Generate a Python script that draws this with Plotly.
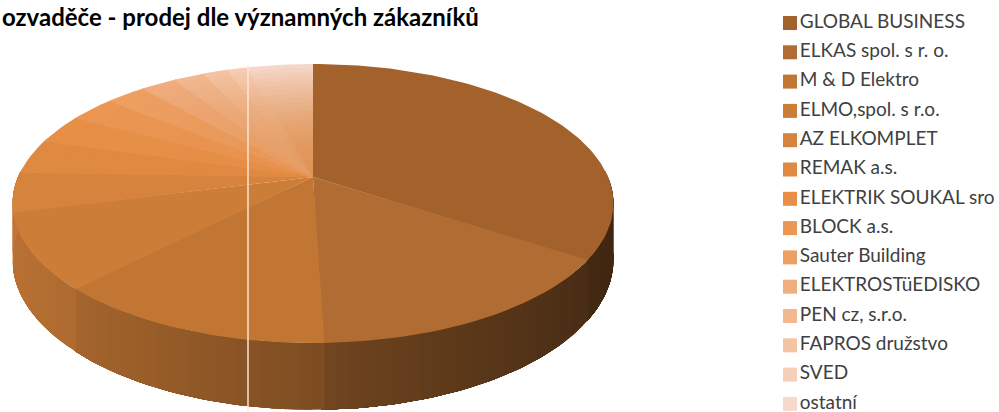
import numpy as np
import plotly.graph_objects as go

# ---- data ----
labels = ["GLOBAL BUSINESS", "ELKAS spol. s r. o.", "M & D Elektro", "ELMO,spol. s r.o.",
          "AZ ELKOMPLET", "REMAK a.s.", "ELEKTRIK SOUKAL sro", "BLOCK a.s.",
          "Sauter Building", "ELEKTROSTüEDISKO", "PEN cz, s.r.o.", "FAPROS družstvo",
          "SVED", "ostatní"]
values = [34.3, 15.2, 12.7, 8.7, 4.6, 4.0, 3.4, 3.0, 2.6, 2.3, 2.0, 1.6, 1.3, 4.3]
colors = ["#a3622b", "#b06c32", "#c17634", "#cc7d38", "#d6833d", "#df8941", "#e78f47",
          "#eb9652", "#eea063", "#f0ad7e", "#f2b892", "#f4c4a4", "#f6cfb8", "#f6d8cc"]
title_text = "ozvaděče - prodej dle významných zákazníků"

# ---- style / geometry (pixels) ----
W, HT = 999, 412
CX, CY = 313, 177          # projected pie centre
A, B = 295, 134.5          # radii of the projected disk
K = 0.19                   # perspective strength
H = 54                     # side height
CENTER_TONE = "#dd8b47"
EPS = np.radians(0.4)


def hex2rgb(h):
    h = h.lstrip("#")
    return np.array([int(h[i:i + 2], 16) for i in (0, 2, 4)], dtype=float)


def rgb2str(c):
    c = np.clip(c, 0, 255)
    return "rgb(%d,%d,%d)" % tuple(int(round(v)) for v in c)


def proj(theta, r=1.0, drop=0.0):
    X = r * np.sin(theta)
    Y = r * np.cos(theta)
    s = 1.0 / (1.0 + K * Y)
    return CX + A * X * s, CY - B * Y * s + drop * s


def poly(x, y, col):
    fig.add_trace(go.Scatter(x=x, y=y, fill="toself", mode="lines", fillcolor=col,
                             line=dict(width=0), hoverinfo="skip", showlegend=False))


fig = go.Figure()

total = float(sum(values))
bounds = np.concatenate([[0], np.cumsum(values)]) / total * 2 * np.pi

# ---- sides (front half only), painted so later pieces overlap earlier ones ----
for i, (a0, a1) in enumerate(zip(bounds[:-1], bounds[1:])):
    lo, hi = max(a0, np.pi / 2 - 0.05), min(a1, 3 * np.pi / 2 + 0.05)
    if hi <= lo:
        continue
    n = max(1, int(np.ceil((hi - lo) / np.radians(2))))
    edges = np.linspace(lo, hi, n + 1)
    base = hex2rgb(colors[i])
    end = hi + (EPS if i < len(values) - 1 else 0)
    for e0, e1 in zip(edges[:-1], edges[1:]):
        t = np.linspace(e0, end, max(3, int(np.degrees(end - e0)) + 2))
        xt, yt = proj(t)
        xb, yb = proj(t[::-1], drop=H)
        xm = np.mean(proj(np.array([e0, e1]))[0])
        f = 0.9 - 0.5 * (xm - (CX - A)) / (2 * A)
        poly(np.concatenate([xt, xb]), np.concatenate([yt, yb]), rgb2str(base * f))

# ---- top faces with a soft radial gradient (outer -> inner sectors) ----
NR = 24
ct = hex2rgb(CENTER_TONE)
for i, (a0, a1) in enumerate(zip(bounds[:-1], bounds[1:])):
    outer = hex2rgb(colors[i])
    w = 0.9 * max(0, i - 4) / 9.0
    inner = outer * (1 - w) + ct * w
    end = a1 + (EPS if i < len(values) - 1 else 0)
    t = np.linspace(a0, end, max(3, int(np.degrees(end - a0) / 1.5) + 2))
    radii = np.linspace(1, 0, NR + 1)[:-1] if w > 0 else [1.0]
    for r1 in radii:
        rm = r1 - 0.5 / NR if w > 0 else 1.0
        col = rgb2str(inner + (outer - inner) * rm ** 1.6)
        xo, yo = proj(t, r=r1)
        poly(np.concatenate([[CX], xo]), np.concatenate([[CY], yo]), col)

# ---- legend (markers + text) ----
leg_x = [790] * len(labels)
leg_y = [23 + 29.3 * k for k in range(len(labels))]
fig.add_trace(go.Scatter(x=leg_x, y=leg_y, mode="markers+text",
                         marker=dict(symbol="square", size=14, color=colors, line=dict(width=0)),
                         text=labels, textposition="middle right",
                         textfont=dict(family="Lato", size=19, color="#404040"),
                         hoverinfo="skip", showlegend=False, cliponaxis=False))

fig.add_annotation(text="<b>%s</b>" % title_text, xref="paper", yref="paper",
                   x=0, y=1 - 17 / HT, xanchor="left", yanchor="middle", showarrow=False,
                   font=dict(family="Lato", size=24, color="#000000"))

fig.add_shape(type="line", x0=248, x1=248, y0=65, y1=HT, xref="x", yref="y",
              line=dict(color="rgba(255,232,215,0.95)", width=1.5))

fig.update_layout(width=W, height=HT, margin=dict(l=0, r=0, t=0, b=0),
                  paper_bgcolor="white", plot_bgcolor="white",
                  xaxis=dict(range=[0, W], visible=False, fixedrange=True),
                  yaxis=dict(range=[HT, 0], visible=False, fixedrange=True),
                  showlegend=False)

fig.write_html("out.html")
